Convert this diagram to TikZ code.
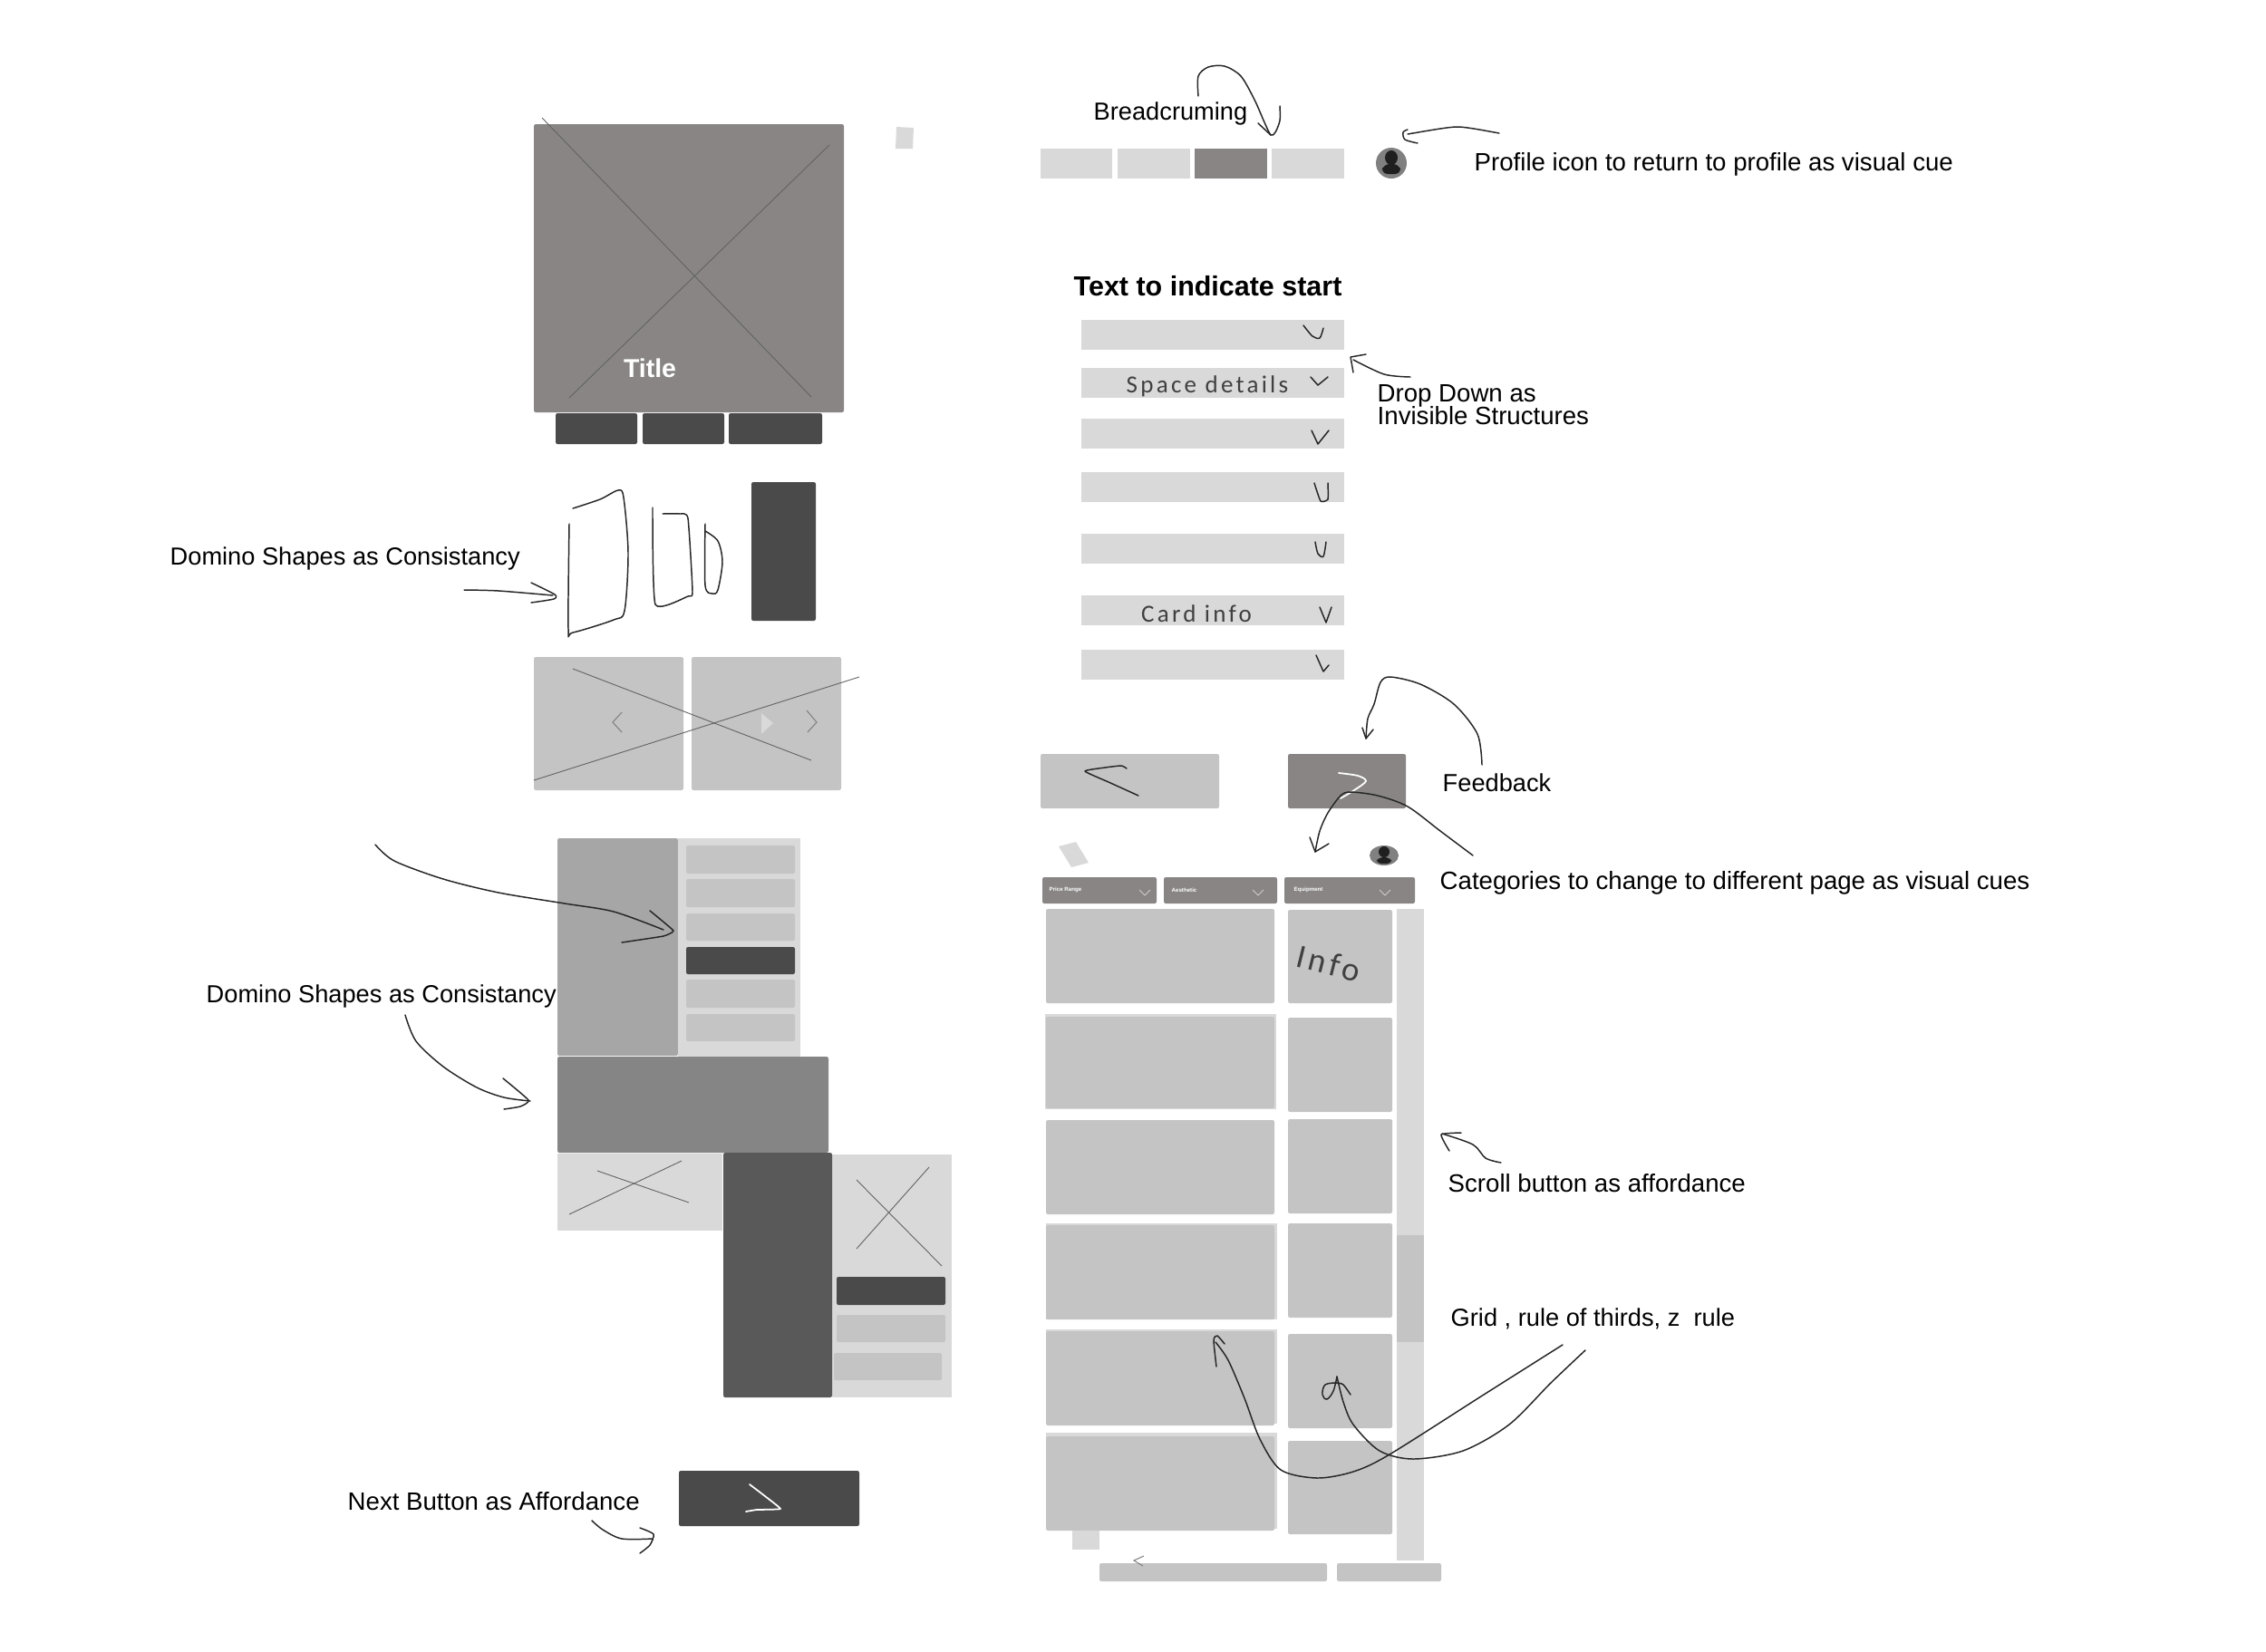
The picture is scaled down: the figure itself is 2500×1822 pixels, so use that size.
\documentclass[tikz,border=0pt]{standalone}
\usepackage{fontspec}
\setmainfont{Liberation Sans}
\newfontfamily\inkfont[LetterSpace=12]{Carlito}
\usepackage{xcolor}
\usetikzlibrary{positioning}
\definecolor{wallgrey}{HTML}{898585}
\definecolor{darkgrey}{HTML}{4A4A4A}
\definecolor{cardgrey}{HTML}{C4C4C4}
\definecolor{palegrey}{HTML}{D9D9D9}
\tikzset{
  cardbox/.style={fill=cardgrey,rounded corners=0.6pt},
  palebox/.style={fill=palegrey},
  darkbox/.style={fill=darkgrey,rounded corners=0.6pt},
  wallbox/.style={fill=wallgrey,rounded corners=0.6pt},
  crossline/.style={draw=black!62,line width=0.25pt},
  chevron/.style={draw=black!50,line width=0.3pt},
  inkstroke/.style={draw=black!85,line width=0.42pt,line cap=round,line join=round},
  whitestroke/.style={draw=white,line width=0.5pt,line cap=round,line join=round},
  notelabel/.style={font=\fontsize{7.75}{9}\selectfont,anchor=west,inner sep=0pt},
  widenote/.style={notelabel,font=\fontsize{7.86}{9}\selectfont},
  handlabel/.style={font=\inkfont\fontsize{7.7}{9}\selectfont,text=black!75,inner sep=0pt},
  tablabel/.style={font=\bfseries\fontsize{1.75}{3}\selectfont,text=white,anchor=west,inner sep=0pt}
}
\begin{document}
\begin{tikzpicture}[x=0.1mm,y=-0.1mm]
  \useasboundingbox (0,0) rectangle (2500,1822);

  % hero block
  \fill[wallbox] (589,137) rectangle (931,455);
  \draw[crossline] (598,130) -- (895,438);
  \draw[crossline] (915,160) -- (628,439);
  \node[font=\bfseries\fontsize{8.1}{9}\selectfont,text=white,inner sep=0pt] (herotitle) at (717,406) {Title};
  \fill[palebox] (989,140) -- (1008,141) -- (1007,164) -- (988,164) -- cycle;
  \foreach \xa/\xb in {613/703,709/799,804/907}
    \fill[darkbox] (\xa,456) rectangle (\xb,490);

  % domino sketch
  \fill[darkbox] (829,532) rectangle (900,685);
  \draw[inkstroke] plot[smooth,tension=0.5] coordinates {(632,561) (662,551) (682,541) (688,549) (693,610) (689,674) (677,684) (632,698) (627,694) (628,578)};
  \draw[inkstroke] plot[smooth,tension=0.3] coordinates {(720,560) (723,667) (759,658) (764,653) (759,572) (750,567) (731,567)};
  \draw[inkstroke] plot[smooth,tension=0.5] coordinates {(778,578) (778,646) (786,655) (792,651) (797,620) (792,597) (778,586)};
  \node[notelabel] (dominotop) at (187,616) {Domino Shapes as Consistancy};
  \draw[inkstroke] plot[smooth,tension=0.5] coordinates {(512,651) (550,652) (610,657)};
  \draw[inkstroke] plot[smooth,tension=0.4] coordinates {(586,643) (612,656) (611,661) (586,665)};

  % carousel
  \fill[cardbox] (589,725) rectangle (754,872);
  \fill[cardbox] (763,725) rectangle (928,872);
  \draw[crossline] (632,738) -- (895,839);
  \draw[crossline] (589,861) -- (948,747);
  \draw[chevron] (686,786) -- (676,797) -- (686,808);
  \draw[chevron] (890,784) -- (901,797) -- (891,808);
  \fill[palegrey] (840,787) -- (853,798) -- (840,810) -- cycle;

  % domino layout
  \fill[fill=black!35,rounded corners=0.6pt] (615,925) rectangle (748,1165);
  \fill[palebox] (748,925) rectangle (883,1166);
  \foreach \ya/\yb in {933/964,970/1001,1008/1038,1081/1112,1119/1149}
    \fill[cardbox] (757,\ya) rectangle (877,\yb);
  \fill[darkbox] (757,1045) rectangle (877,1075);
  \fill[fill=black!48,rounded corners=0.6pt] (615,1166) rectangle (914,1272);
  \fill[palebox] (615,1273) rectangle (797,1358);
  \draw[crossline] (659,1292) -- (760,1327);
  \draw[crossline] (628,1340) -- (752,1281);
  \fill[palebox] (918,1274) rectangle (1050,1542);
  \fill[fill=black!65,rounded corners=0.6pt] (798,1272) rectangle (918,1542);
  \draw[crossline] (945,1302) -- (1039,1397);
  \draw[crossline] (1025,1288) -- (945,1378);
  \fill[darkbox] (923,1409) rectangle (1043,1440);
  \fill[cardbox] (923,1451) rectangle (1043,1481);
  \fill[cardbox] (920,1493) rectangle (1039,1523);
  \node[notelabel] (dominolow) at (227,1099) {Domino Shapes as Consistancy};
  \draw[inkstroke] plot[smooth,tension=0.5] coordinates {(414,932) (435,950) (489,970) (550,985) (623,997) (677,1006) (732,1026)};
  \draw[inkstroke] plot[smooth,tension=0.2] coordinates {(717,1005) (743,1027) (732,1033) (686,1040)};
  \draw[inkstroke] plot[smooth,tension=0.5] coordinates {(447,1120) (459,1149) (489,1177) (526,1200) (556,1211) (585,1215)};
  \draw[inkstroke] plot[smooth,tension=0.3] coordinates {(555,1190) (583,1214) (574,1221) (556,1224)};

  % next button
  \fill[darkbox] (749,1623) rectangle (948,1684);
  \draw[whitestroke] plot[smooth,tension=0.2] coordinates {(827,1638) (844,1651) (861,1665) (835,1666) (823,1668)};
  \node[widenote] (nextnote) at (383,1657) {Next Button as Affordance};
  \draw[inkstroke] plot[smooth,tension=0.5] coordinates {(653,1678) (665,1688) (686,1698) (720,1698)};
  \draw[inkstroke] plot[smooth,tension=0.4] coordinates {(706,1686) (721,1693) (717,1705) (706,1714)};

  % breadcrumbs
  \foreach \xa/\xb in {1148/1227,1233/1313,1403/1483}
    \fill[palebox] (\xa,164) rectangle (\xb,197);
  \fill[fill=wallgrey] (1318,164) rectangle (1398,197);
  \node[notelabel] (crumbnote) at (1206,125) {Breadcruming};
  \draw[inkstroke] plot[smooth,tension=0.5] coordinates {(1322,106) (1322,84) (1333,74) (1351,73) (1369,84) (1384,110) (1395,135) (1402,149) (1407,146) (1412,133) (1412,117)};
  \draw[inkstroke] (1388,136) -- (1402,149);

  % profile icon
  \fill[fill=black!50] (1535,180) ellipse (17 and 17);
  \fill[fill=black!88] (1535,174) ellipse (7 and 8);
  \fill[fill=black!88,rounded corners=2pt] (1524,192) -- (1526,181) -- (1544,181) -- (1546,192) -- cycle;
  \node[widenote] (profilenote) at (1626,181) {Profile icon to return to profile as visual cue};
  \draw[inkstroke] plot[smooth,tension=0.5] coordinates {(1654,147) (1626,142) (1608,140) (1589,142) (1553,148)};
  \draw[inkstroke] plot[smooth,tension=0.5] coordinates {(1553,143) (1548,146) (1550,154) (1564,158)};

  % dropdown list
  \node[font=\bfseries\fontsize{8.67}{10}\selectfont,anchor=west,inner sep=0pt] (startnote) at (1184,316) {Text to indicate start};
  \foreach \ya in {353,406,462,521,589,657,717}
    \fill[palebox] (1193,\ya) rectangle (1483,\ya+33);
  \draw[inkstroke] plot[smooth,tension=0.5] coordinates {(1438,359) (1448,371) (1456,373) (1460,362)};
  \draw[inkstroke] (1446,416) -- (1454,425) -- (1465,416);
  \draw[inkstroke] (1447,475) -- (1454,490) -- (1466,475);
  \draw[inkstroke] plot[smooth,tension=0.3] coordinates {(1450,533) (1457,553) (1465,551) (1465,533)};
  \draw[inkstroke] plot[smooth,tension=0.5] coordinates {(1451,598) (1454,611) (1460,614) (1463,598)};
  \draw[inkstroke] (1456,670) -- (1463,687) -- (1469,670);
  \draw[inkstroke] (1452,723) -- (1460,741) -- (1466,734);
  \node[handlabel] (spacenote) at (1332,426) {Space details};
  \node[handlabel] (cardnote) at (1320,677) {Card info};
  \node[widenote] (dropnote) at (1519,437) {Drop Down as};
  \node[widenote] (dropnotetwo) at (1519,459) {Invisible Structures};
  \draw[inkstroke] plot[smooth,tension=0.5] coordinates {(1556,416) (1527,413) (1493,397)};
  \draw[inkstroke] (1493,411) -- (1490,394) -- (1507,391);

  % back and forward buttons
  \fill[cardbox] (1148,832) rectangle (1345,892);
  \fill[wallbox] (1421,832) rectangle (1551,892);
  \draw[inkstroke] plot[smooth,tension=0.3] coordinates {(1256,878) (1223,863) (1197,851) (1219,847) (1237,845) (1243,848)};
  \draw[whitestroke] plot[smooth,tension=0.5] coordinates {(1477,853) (1498,856) (1507,862) (1494,872) (1479,881)};
  \node[notelabel] (feedbacknote) at (1591,864) {Feedback};
  \draw[inkstroke] plot[smooth,tension=0.5] coordinates {(1635,844) (1630,810) (1604,777) (1567,755) (1534,747) (1523,753) (1516,777) (1509,793) (1507,815)};
  \draw[inkstroke] (1503,803) -- (1507,815) -- (1515,805);
  \node[widenote] (categorynote) at (1588,974) {Categories to change to different page as visual cues};
  \draw[inkstroke] plot[smooth,tension=0.5] coordinates {(1625,944) (1589,917) (1553,890) (1520,878) (1490,874) (1479,878) (1465,897) (1456,917) (1451,940)};
  \draw[inkstroke] (1445,924) -- (1451,940) -- (1466,931);

  % results page header
  \fill[palebox] (1168,934) -- (1187,929) -- (1201,952) -- (1182,957) -- cycle;
  \fill[fill=black!50] (1527,944) ellipse (16 and 11);
  \fill[fill=black!88] (1527,940) ellipse (6 and 6);
  \fill[fill=black!88,rounded corners=1.5pt] (1518,953) -- (1520,946) -- (1534,946) -- (1536,953) -- cycle;
  \foreach \xa/\xb/\xc in {1150/1276/1263,1284/1409/1388,1417/1561/1528} {
    \fill[wallbox] (\xa,968) rectangle (\xb,997);
    \draw[draw=white!80!black,line width=0.25pt] (\xc-6,982) -- (\xc,988) -- (\xc+6,982);
  }
  \node[tablabel] (pricetab) at (1157,982) {Price Range};
  \node[tablabel] (looktab) at (1292,982) {Aesthetic};
  \node[tablabel] (geartab) at (1427,982) {Equipment};

  % results grid
  \fill[palebox] (1153,1119) rectangle (1408,1224);
  \fill[palebox] (1154,1350) rectangle (1409,1456);
  \fill[palebox] (1154,1467) rectangle (1409,1571);
  \fill[palebox] (1154,1581) rectangle (1409,1687);
  \foreach \ya/\yb in {1003/1107,1122/1223,1236/1340,1352/1456,1469/1573,1585/1689}
    \fill[cardbox] (1154,\ya) rectangle (1406,\yb);
  \foreach \ya/\yb in {1004/1107,1123/1227,1235/1339,1350/1454,1472/1576,1590/1693}
    \fill[cardbox] (1421,\ya) rectangle (1536,\yb);
  \node[handlabel,font=\inkfont\fontsize{10.5}{12}\selectfont,rotate=-14] (infonote) at (1466,1063) {Info};
  \fill[palebox] (1541,1003) rectangle (1571,1722);
  \fill[fill=cardgrey] (1541,1363) rectangle (1571,1481);
  \fill[palebox] (1183,1689) rectangle (1213,1710);
  \fill[cardbox] (1213,1725) rectangle (1464,1745);
  \fill[cardbox] (1475,1725) rectangle (1590,1745);
  \draw[chevron] (1262,1717) -- (1251,1722) -- (1261,1728);

  % notes on the grid
  \node[widenote] (scrollnote) at (1597,1306) {Scroll button as affordance};
  \draw[inkstroke] plot[smooth,tension=0.5] coordinates {(1656,1283) (1639,1278) (1625,1263) (1591,1251)};
  \draw[inkstroke] plot[smooth,tension=0.3] coordinates {(1599,1270) (1590,1252) (1612,1250)};
  \node[notelabel] (gridnote) at (1600,1455) {Grid , rule of thirds, z\ \ rule};
  \draw[inkstroke] plot[smooth,tension=0.5] coordinates {(1724,1484) (1637,1539) (1533,1605) (1493,1624) (1453,1631) (1413,1622) (1390,1588) (1373,1543) (1355,1501) (1341,1481)};
  \draw[inkstroke] plot[smooth,tension=0.4] coordinates {(1342,1508) (1339,1479) (1343,1474) (1351,1483)};
  \draw[inkstroke] plot[smooth,tension=0.5] coordinates {(1749,1490) (1711,1526) (1665,1572) (1614,1601) (1559,1610) (1522,1601) (1493,1572) (1482,1547) (1475,1519)};
  \draw[inkstroke] plot[smooth,tension=0.6] coordinates {(1475,1526) (1462,1528) (1459,1539) (1464,1544) (1471,1535) (1475,1519)};
  \draw[inkstroke] plot[smooth,tension=0.5] coordinates {(1475,1526) (1482,1528) (1490,1539)};
\end{tikzpicture}
\end{document}
